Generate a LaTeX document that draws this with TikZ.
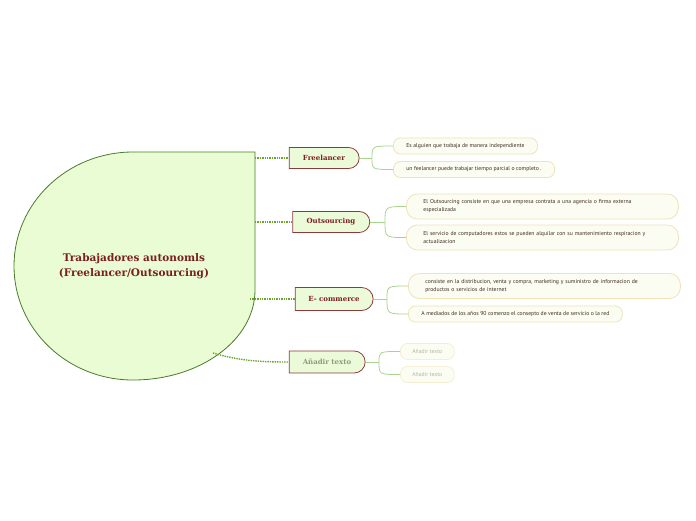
\documentclass[tikz,border=0pt]{standalone}
\usepackage{fontspec}
\setmainfont{PT Sans}
\newfontfamily\slabfont{DejaVu Serif}
\usetikzlibrary{shapes.misc}
\definecolor{rootfill}{HTML}{E9FCD3}
\definecolor{rootline}{HTML}{4B7A29}
\definecolor{topicfill}{HTML}{EBFAD8}
\definecolor{topicline}{HTML}{8C3B3B}
\definecolor{darkred}{HTML}{7B1F1F}
\definecolor{linkgreen}{HTML}{6AA52A}
\definecolor{branchgreen}{HTML}{A9D28E}
\definecolor{leafline}{HTML}{EFE3B8}
\definecolor{leaffill}{HTML}{FBFDF2}
\definecolor{leaftext}{HTML}{3E2A20}
\definecolor{fadetext}{HTML}{B3B3A3}
\definecolor{fadetopic}{HTML}{8E9C78}
\begin{document}
\begin{tikzpicture}[x=1pt,y=-1pt,
  topic/.style={rounded rectangle, rounded rectangle west arc=none, draw=topicline, fill=topicfill,
    thick, inner sep=0pt, minimum height=21pt, text=darkred,
    font=\slabfont\bfseries\fontsize{7}{8}\selectfont},
  leaf/.style={draw=leafline, fill=leaffill, thick, rounded corners=7pt, anchor=west, align=left,
    inner xsep=13pt, inner ysep=2pt, minimum height=16pt, text=leaftext,
    font=\fontsize{5.7}{8}\selectfont},
  wideleaf/.style={leaf, text width=238pt, inner xsep=17pt, minimum height=25pt, rounded corners=11pt},
  fadeleaf/.style={leaf, draw=leafline!60, text=fadetext, inner xsep=12pt},
  link/.style={draw=linkgreen, line width=1.4pt, dash pattern=on 1.4pt off 1pt},
  branch/.style={draw=branchgreen, thick}]
\useasboundingbox (0,0) rectangle (696,520);

% central drop
\draw[rootline, fill=rootfill, thick] (255,152) -- (255,290)
  arc[start angle=0, end angle=90, x radius=122, y radius=90]
  arc[start angle=90, end angle=180, x radius=119, y radius=114]
  arc[start angle=180, end angle=270, x radius=119, y radius=114] -- cycle;
\node[text=darkred, align=center, font=\slabfont\bfseries\fontsize{10.5}{15}\selectfont] (root) at (134,266)
  {Trabajadores autonomls\\(Freelancer/Outsourcing)};
\coordinate (r1) at (255,158);
\coordinate (r2) at (255,222);
\coordinate (r3) at (250,299);
\coordinate (r4) at (213,353);

\node[topic, minimum width=70pt] (freelancer) at (324,158) {Freelancer};
\node[topic, minimum width=77pt] (outsourcing) at (331,222) {Outsourcing};
\node[topic, minimum width=78pt, minimum height=23pt] (ecommerce) at (334,299) {E- commerce};
\node[topic, minimum width=76pt, minimum height=22pt, text=fadetopic] (anadir) at (327,362) {Añadir texto};

\draw[link] (r1) -- (freelancer.west);
\draw[link] (r2) -- (outsourcing.west);
\draw[link] (r3) -- (ecommerce.west);
\draw[link] (r4) .. controls (240,361) and (262,362) .. (anadir.west);

\node[leaf] (free1) at (393,146) {Es alguien que trabaja de manera independiente};
\node[leaf] (free2) at (393,169.5) {un feelancer puede trabajar tiempo parcial o completo .};
\node[wideleaf] (out1) at (406,206.5) {El Outsourcing consiste en que una empresa contrata a una agencia o firma externa\\especializada};
\node[wideleaf] (out2) at (406,237.5) {El servicio de computadores estos se pueden alquilar con su mantenimiento respiracion y\\actualizacion};
\node[wideleaf] (ecom1) at (408,286) {consiste en la distribucion, venta y compra, marketing y suministro de informacion de\\productos o servicios de internet};
\node[leaf] (ecom2) at (408,314) {A mediados de los años 90 comenzo el consepto de venta de servicio o la red};
\node[fadeleaf] (add1) at (400,351.5) {Añadir texto};
\node[fadeleaf] (add2) at (400,374.5) {Añadir texto};

\coordinate (j1) at (372,158);
\coordinate (j2) at (385,222);
\coordinate (j3) at (387,299);
\coordinate (j4) at (379,362);
\draw[branch] (freelancer.east) -- (j1);
\draw[branch] (j1) .. controls (j1 |- free1.west) .. (free1.west);
\draw[branch] (j1) .. controls (j1 |- free2.west) .. (free2.west);
\draw[branch] (outsourcing.east) -- (j2);
\draw[branch] (j2) .. controls (j2 |- out1.west) .. (out1.west);
\draw[branch] (j2) .. controls (j2 |- out2.west) .. (out2.west);
\draw[branch] (ecommerce.east) -- (j3);
\draw[branch] (j3) .. controls (j3 |- ecom1.west) .. (ecom1.west);
\draw[branch] (j3) .. controls (j3 |- ecom2.west) .. (ecom2.west);
\draw[branch] (anadir.east) -- (j4);
\draw[branch] (j4) .. controls (j4 |- add1.west) .. (add1.west);
\draw[branch] (j4) .. controls (j4 |- add2.west) .. (add2.west);
\end{tikzpicture}
\end{document}
